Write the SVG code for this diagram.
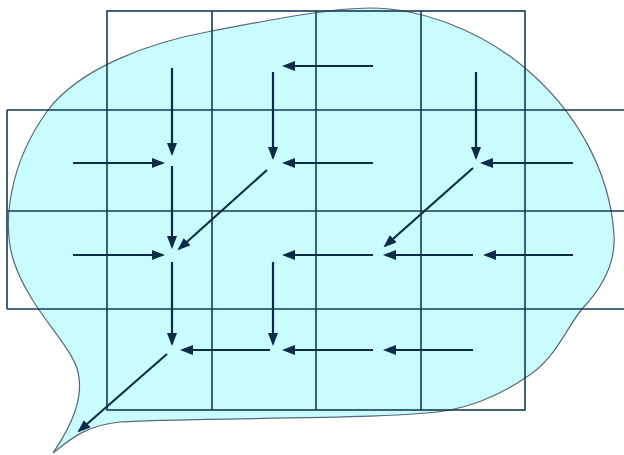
<svg xmlns="http://www.w3.org/2000/svg" width="624" height="455" viewBox="0 0 624 455">
<style>
.grid{fill:none;stroke:#173a55;stroke-width:1.6}
.arr{fill:none;stroke:#0b2c48;stroke-width:2.2;marker-end:url(#ah)}
.blob{fill:#c9fcfc;stroke:#56687a;stroke-width:1.2}
</style>
<defs>
<marker id="ah" markerUnits="userSpaceOnUse" markerWidth="14" markerHeight="10" refX="11" refY="5" orient="auto">
<path d="M0,0 L13,5 L0,10 Z" fill="#0b2c48"/>
</marker>
</defs>
<rect width="624" height="455" fill="#ffffff"/>
<g id="blob">
<path class="blob" d="M53,453 C72,425 84,398 78,372 C72,345 30,310 14,262 C2,225 8,165 48,110 C80,68 150,42 212,31 C270,20 330,8 370,8 C420,8 480,30 525,68 C575,110 610,170 614,235 C616,265 600,290 582,309 C565,330 555,360 525,378 C500,395 475,405 450,410 C400,420 200,417 120,422 C90,425 75,435 53,453 Z"/>
</g>
<g id="grid">
<rect class="grid" x="107" y="11" width="418" height="399"/>
<path class="grid" d="M212,11 V410 M316,11 V410 M421,11 V410 M7,110 H624 M7,211 H624 M7,309 H624 M7,110 V309"/>
</g>
<g id="connectors">
<line class="arr" x1="373" y1="66" x2="284" y2="66"/>
<line class="arr" x1="172" y1="68" x2="172" y2="154"/>
<line class="arr" x1="273" y1="72" x2="273" y2="158"/>
<line class="arr" x1="476" y1="72" x2="476" y2="158"/>
<line class="arr" x1="73" y1="163" x2="163" y2="163"/>
<line class="arr" x1="373" y1="163" x2="284" y2="163"/>
<line class="arr" x1="573" y1="163" x2="482" y2="163"/>
<line class="arr" x1="267" y1="170" x2="179" y2="249"/>
<line class="arr" x1="473" y1="168" x2="385" y2="246"/>
<line class="arr" x1="172" y1="166" x2="172" y2="247"/>
<line class="arr" x1="73" y1="255" x2="163" y2="255"/>
<line class="arr" x1="373" y1="255" x2="284" y2="255"/>
<line class="arr" x1="473" y1="255" x2="385" y2="255"/>
<line class="arr" x1="573" y1="255" x2="485" y2="255"/>
<line class="arr" x1="172" y1="262" x2="172" y2="344"/>
<line class="arr" x1="273" y1="262" x2="273" y2="344"/>
<line class="arr" x1="270" y1="350" x2="182" y2="350"/>
<line class="arr" x1="373" y1="350" x2="284" y2="350"/>
<line class="arr" x1="473" y1="350" x2="385" y2="350"/>
<line class="arr" x1="167" y1="354" x2="79" y2="431"/>
</g>
</svg>
